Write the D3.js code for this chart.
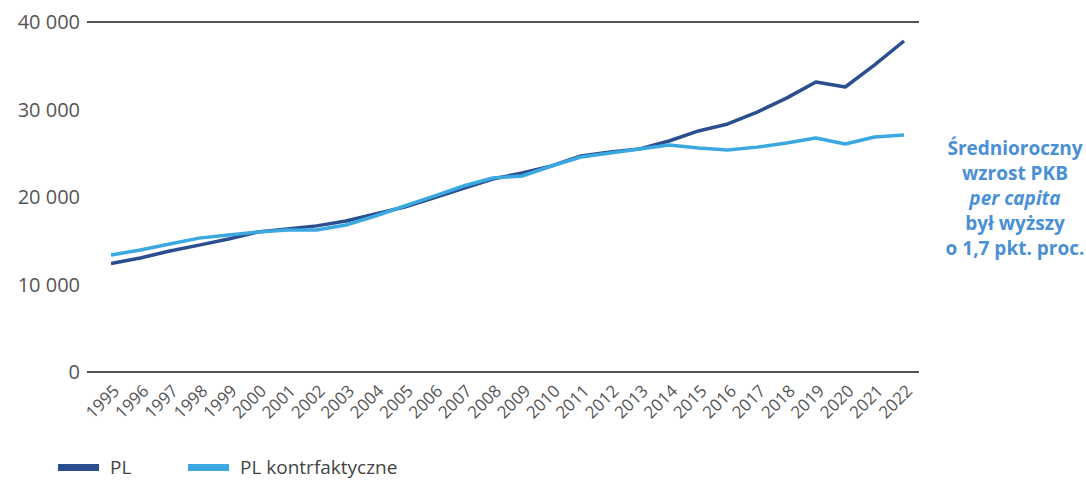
<!DOCTYPE html>
<html><head><meta charset="utf-8">
<script src="https://cdn.jsdelivr.net/npm/d3@7"></script>
<style>body{margin:0;background:#fff;font-family:"Open Sans",sans-serif;}</style>
</head><body><svg id="c" width="1086" height="481"></svg>
<script>
const years = [1995,1996,1997,1998,1999,2000,2001,2002,2003,2004,2005,2006,2007,2008,2009,2010,2011,2012,2013,2014,2015,2016,2017,2018,2019,2020,2021,2022];
const pl = [12400,13030,13830,14500,15200,16000,16350,16700,17250,18050,18850,19900,21000,22050,22750,23550,24700,25150,25500,26400,27550,28350,29700,31300,33150,32570,35100,37830];
const plCf = [13370,13940,14630,15300,15660,16000,16230,16230,16800,17830,18970,20100,21260,22170,22400,23540,24570,25030,25490,25940,25600,25370,25700,26170,26740,26060,26860,27090];
const yTicks = [0,10000,20000,30000,40000];
const seriesNames = ["PL","PL kontrfaktyczne"];
const colors = ["#2b4f8e","#3ba8e0"];
const note = ["Średnioroczny","wzrost PKB","per capita","był wyższy","o 1,7 pkt. proc."];

const svg = d3.select("#c");
const x = d3.scalePoint().domain(years).range([111,904]);
const y = d3.scaleLinear().domain([0,40000]).range([372,22]);
const fmt = v => d3.format(",")(v).replace(/,/g," ");

// y labels
svg.append("g").selectAll("text").data(yTicks).join("text")
  .attr("x",80).attr("y",d=>y(d)).attr("dy","0.35em").attr("text-anchor","end")
  .attr("font-size",20).attr("fill","#555").text(fmt);
// top and bottom lines
[0,40000].forEach(v=>svg.append("line").attr("x1",87).attr("x2",919)
  .attr("y1",y(v)).attr("y2",y(v)).attr("stroke","#555").attr("stroke-width",2));

// x axis labels
const xa = d3.axisBottom(x).tickSize(0).tickPadding(0);
const gx = svg.append("g").attr("transform","translate(0,372)").call(xa);
gx.select(".domain").remove();
gx.selectAll("text").attr("font-size",17).attr("fill","#555").attr("font-family","Open Sans")
  .attr("text-anchor","end").attr("dy",0).attr("y",0)
  .attr("transform","translate(9,20) rotate(-45)");

const line = d3.line().x((d,i)=>x(years[i])).y(d=>y(d));
svg.append("path").datum(pl).attr("d",line).attr("fill","none").attr("stroke",colors[0]).attr("stroke-width",3.5).attr("stroke-linejoin","round");
svg.append("path").datum(plCf).attr("d",line).attr("fill","none").attr("stroke",colors[1]).attr("stroke-width",3.5).attr("stroke-linejoin","round");

// legend
const lg = [{x:58},{x:188}];
seriesNames.forEach((n,i)=>{
  svg.append("rect").attr("x",lg[i].x).attr("y",464).attr("width",41).attr("height",7).attr("fill",colors[i]);
  svg.append("text").attr("x",lg[i].x+52).attr("y",467).attr("dy","0.35em").attr("font-size",19).attr("fill","#444").text(n);
});

// annotation
const t = svg.append("text").attr("text-anchor","middle").attr("font-size",19).attr("font-weight","bold").attr("fill","#4a90d6");
note.forEach((l,i)=>{
  t.append("tspan").attr("x",1015).attr("y",155+i*25).attr("font-style",i===2?"italic":"normal").text(l);
});
</script></body></html>
